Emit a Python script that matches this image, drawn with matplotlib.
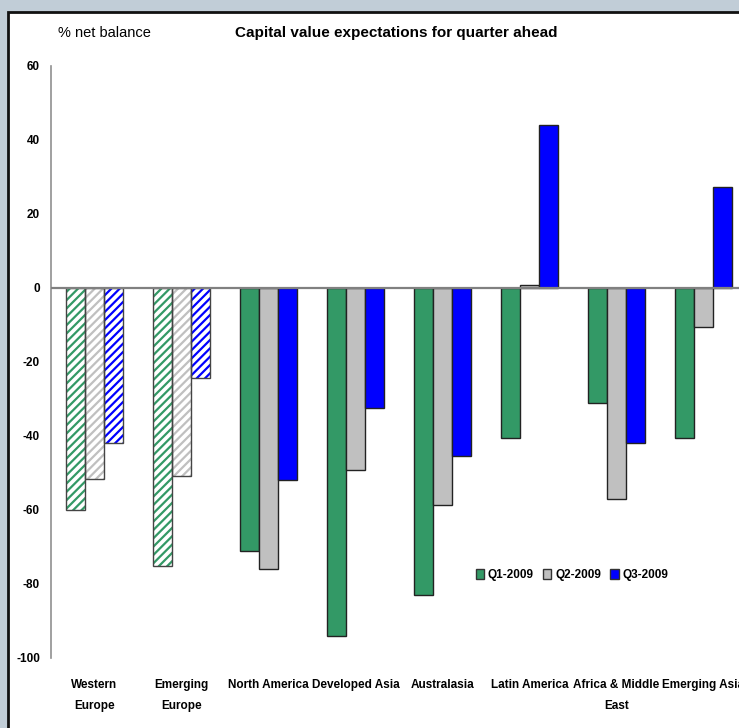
import numpy as np
import matplotlib
matplotlib.use("Agg")
import matplotlib.pyplot as plt
from matplotlib.patches import Patch, Rectangle

plt.rcParams['font.family'] = ['Liberation Sans', 'DejaVu Sans']
plt.rcParams['hatch.linewidth'] = 1.6

categories = ["Western\nEurope", "Emerging\nEurope", "North America", "Developed Asia",
              "Australasia", "Latin America", "Africa & Middle\nEast", "Emerging Asia"]
q1_2009 = [-60, -75, -71, -94, -83, -40.5, -31, -40.5]
q2_2009 = [-51.7, -50.7, -76, -49.2, -58.6, 0.8, -57, -10.5]
q3_2009 = [-42, -24.2, -51.8, -32.3, -45.5, 44, -42, 27.2]
series_names = ["Q1-2009", "Q2-2009", "Q3-2009"]
hatched_categories = ["Western\nEurope", "Emerging\nEurope"]
y_ticks = [60, 40, 20, 0, -20, -40, -60, -80, -100]

colors = ["#339966", "#c0c0c0", "#0000ff"]

fig = plt.figure(figsize=(7.39, 7.28), dpi=100)
fig.patch.set_facecolor("#c1cdd7")

# white panel with dark frame, running off the right and bottom edges
panel = Rectangle((8 / 739, -0.1), 1.2, 1.1 - 12 / 728, transform=fig.transFigure,
                  facecolor="white", edgecolor="#111111", linewidth=2.0, zorder=-10)
fig.patches.append(panel)

ax = fig.add_axes([51 / 739, 70 / 728, 696 / 739, 592 / 728])
ax.set_facecolor("none")

x = np.arange(len(categories))
width = 0.218
all_series = [q1_2009, q2_2009, q3_2009]
for i, (vals, col) in enumerate(zip(all_series, colors)):
    offs = (i - 1) * width
    bars = ax.bar(x + offs, vals, width, color=col, edgecolor="#222222", linewidth=1.0, zorder=3)
    for cat, b in zip(categories, bars):
        if cat in hatched_categories:
            b.set_facecolor("white")
            b.set_edgecolor(col)
            b.set_linewidth(0)
            b.set_hatch("////")
            ax.add_patch(Rectangle(b.get_xy(), b.get_width(), b.get_height(),
                                   facecolor="none", edgecolor="#444444",
                                   linewidth=1.0, zorder=4))

ax.axhline(0, color="#808080", linewidth=1.6, zorder=5)

ax.set_xlim(-0.5, len(categories) - 0.5)
ax.set_ylim(-100, 60)
ax.set_yticks(y_ticks)
ax.set_yticklabels([str(t) for t in y_ticks], fontsize=8.5, fontweight="bold")
ax.set_xticks(x)
ax.set_xticklabels(categories, fontsize=8.5, fontweight="bold", linespacing=2.0)
ax.tick_params(axis="both", length=0)
ax.tick_params(axis="y", pad=8)
ax.tick_params(axis="x", pad=15)
for s in ["top", "right", "bottom"]:
    ax.spines[s].set_visible(False)
ax.spines["left"].set_color("#909090")
ax.spines["left"].set_linewidth(1.2)

fig.text(58 / 739, 1 - 33 / 728, "% net balance", fontsize=10.5, va="center", ha="left")
fig.text(396 / 739, 1 - 33 / 728, "Capital value expectations for quarter ahead",
         fontsize=11, fontweight="bold", va="center", ha="center")

handles = [Patch(facecolor=c, edgecolor="#333333", linewidth=1.0) for c in colors]
ax.legend(handles, series_names, loc="center", bbox_to_anchor=(572 / 739, 1 - 575 / 728),
          bbox_transform=fig.transFigure, ncol=3, frameon=False,
          handlelength=0.7, handleheight=0.9, handletextpad=0.3, columnspacing=0.8,
          prop={"weight": "bold", "size": 8.5})

fig.savefig("out.png", dpi=100)
